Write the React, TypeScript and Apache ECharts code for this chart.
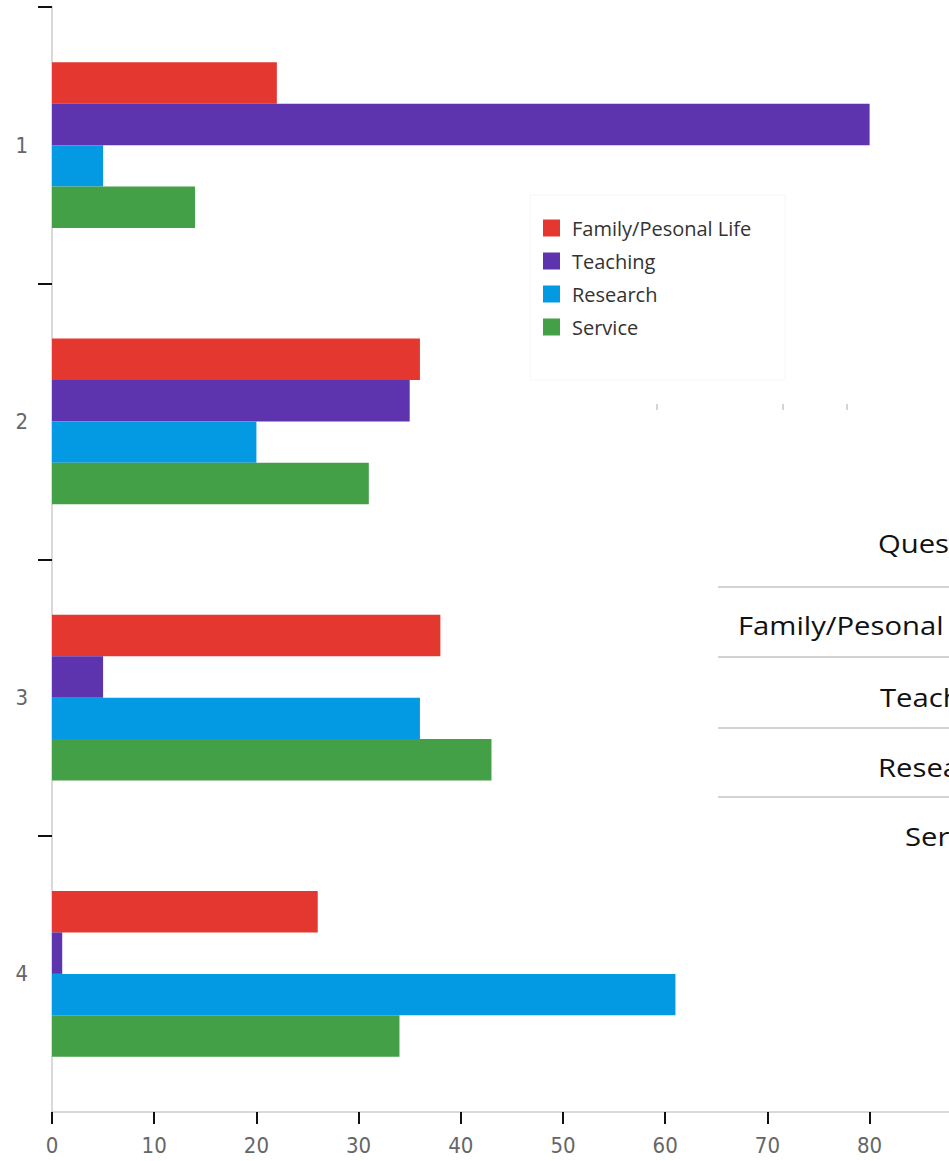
import React, { useEffect, useRef } from "react";
import * as echarts from "echarts";

const categories = ["1", "2", "3", "4"];
const seriesNames = ["Family/Pesonal Life", "Teaching", "Research", "Service"];
const familyValues = [22, 36, 38, 26];
const teachingValues = [80, 35, 5, 1];
const researchValues = [5, 20, 36, 61];
const serviceValues = [14, 31, 43, 34];
const seriesColors = ["#e3372f", "#5e33ae", "#0399e3", "#43a047"];
const xMaxLabel = 80;
const yBoundaryTicks = [0, 1, 2, 3];
const tableHeader = "Ques";
const tableRows = ["Family/Pesonal", "Teach", "Resea", "Ser"];

export default function App() {
  const ref = useRef<HTMLDivElement>(null);
  useEffect(() => {
    if (!ref.current) return;
    const chart = echarts.init(ref.current, undefined, { renderer: "svg" });
    const values = [familyValues, teachingValues, researchValues, serviceValues];
    const tableFont = "'Open Sans', 'Noto Sans', sans-serif";
    const tableTextX = [738, 880, 878, 905];
    const tableTextY = [625, 697, 767, 836];
    const lineYs = [587, 657, 728, 797];
    const tableScaleX = 1.17;
    const mkText = (text: string, x: number, y: number) => ({
      type: "text",
      x,
      y,
      scaleX: tableScaleX,
      style: {
        text,
        x: 0,
        y: 0,
        fill: "#111111",
        fontSize: 25,
        fontFamily: tableFont,
        verticalAlign: "middle",
      },
      silent: true,
    });
    const option: any = {
      animation: false,
      backgroundColor: "#ffffff",
      grid: { left: 52, top: 7, width: 1022, height: 1105, containLabel: false },
      legend: {
        show: true,
        orient: "vertical",
        left: 543,
        top: 218,
        icon: "rect",
        itemWidth: 17,
        itemHeight: 17,
        itemGap: 13,
        selectedMode: false,
        padding: 0,
        textStyle: {
          fontSize: 20,
          color: "#333333",
          fontFamily: "'Open Sans', Lato, sans-serif",
          padding: [0, 0, 0, 7],
        },
        data: seriesNames,
      },
      xAxis: {
        type: "value",
        position: "bottom",
        min: 0,
        max: 100,
        interval: 10,
        axisLine: { show: true, onZero: false, lineStyle: { color: "#cccccc", width: 1.5 } },
        axisTick: {
          show: true,
          length: 12,
          lineStyle: { color: "#111111", width: 2 },
        },
        splitLine: { show: false },
        axisLabel: {
          margin: 22,
          fontSize: 22,
          color: "#666666",
          formatter: (v: number) => (v > xMaxLabel ? "" : String(v)),
          fontFamily: "'DejaVu Sans Condensed', 'Liberation Sans Narrow', 'Roboto Condensed', Roboto, sans-serif",
        },
      },
      yAxis: [
        {
          type: "category",
          inverse: true,
          data: categories,
          axisLine: { show: true, onZero: false, lineStyle: { color: "#cccccc", width: 1.5 } },
          axisTick: { show: false },
          axisLabel: {
            margin: 24,
            fontSize: 22,
            color: "#666666",
            fontFamily: "'DejaVu Sans Condensed', 'Liberation Sans Narrow', Roboto, sans-serif",
          },
        },
        {
          type: "value",
          position: "left",
          inverse: true,
          min: 0,
          max: 4,
          interval: 1,
          axisLine: { show: false, onZero: false },
          axisTick: {
            show: true,
            length: 14,
            customValues: yBoundaryTicks,
            lineStyle: { color: "#111111", width: 2 },
          },
          axisLabel: { show: false },
          splitLine: { show: false },
        },
      ],
      series: seriesNames.map((name, i) => ({
        name,
        type: "bar",
        yAxisIndex: 0,
        data: values[i],
        barGap: "0%",
        barCategoryGap: "40%",
        itemStyle: { color: seriesColors[i] },
      })),
      graphic: [
        {
          type: "rect",
          shape: { x: 530, y: 195, width: 255, height: 185 },
          style: { fill: "none", stroke: "#f6f6f6", lineWidth: 1 },
          silent: true,
        },
        ...[657, 783, 847].map((x) => ({
          type: "line",
          shape: { x1: x, y1: 404, x2: x, y2: 410 },
          style: { stroke: "#aaaaaa", lineWidth: 1 },
          silent: true,
        })),
        ...lineYs.map((y) => ({
          type: "line",
          shape: { x1: 718, y1: y, x2: 1100, y2: y },
          style: { stroke: "#c4c4c4", lineWidth: 1.5 },
          silent: true,
        })),
        mkText(tableHeader, 878, 543),
        ...tableRows.map((t, i) => mkText(t, tableTextX[i], tableTextY[i])),
      ],
    };
    chart.setOption(option);
    return () => chart.dispose();
  }, []);
  return (
    <div
      style={{
        position: "absolute",
        left: 0,
        top: 0,
        width: 949,
        height: 1161,
        overflow: "hidden",
        background: "#fff",
      }}
    >
      <div ref={ref} style={{ width: 1100, height: 1161 }} />
    </div>
  );
}
